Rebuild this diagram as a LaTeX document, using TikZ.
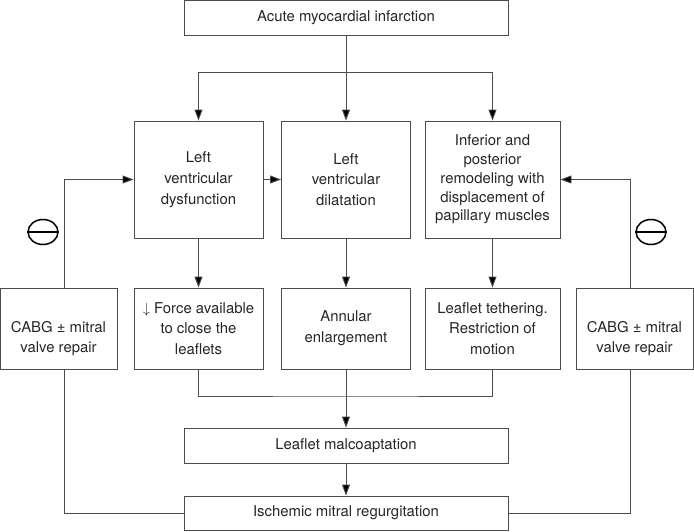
\documentclass[tikz,border=0pt]{standalone}
\usepackage{fontspec}
\setmainfont{TeX Gyre Heros}
\usetikzlibrary{arrows.meta,shapes.geometric,calc}
\begin{document}
\begin{tikzpicture}[x=1pt,y=-1pt,
  box/.style={draw=black!70, line width=0.9pt, rectangle, align=center, inner sep=2pt,
    text=black!85, font=\fontsize{14.9}{20.8}\selectfont},
  conn/.style={draw=black!70, line width=0.9pt},
  arr/.style={conn, -{Triangle[length=11pt,width=8pt,fill=black]}},
  minus/.style={draw=black, line width=1.5pt, ellipse, minimum width=30pt, minimum height=25pt, inner sep=0pt}
]
\useasboundingbox (0,0) rectangle (694,531);

\node[box, minimum width=324, minimum height=35] (top) at (346,17.5) {Acute myocardial infarction};

\node[box, minimum width=129, minimum height=117] (lvd) at (198.5,179.5) {Left\\ventricular\\dysfunction};
\node[box, minimum width=129, minimum height=117] (lvdil) at (346,179.5) {Left\\ventricular\\dilatation};
\node[box, minimum width=135, minimum height=117, font=\fontsize{14.9}{18.8}\selectfont] (rem) at (492.5,179.5) {Inferior and\\posterior\\remodeling with\\displacement of\\papillary muscles};

\node[box, inner sep=0pt] (cabgL) at (58.5,328.5) {\parbox[c][81pt][c]{117pt}{\centering\vspace{20pt}CABG ± mitral\\valve repair}};
\node[box, minimum width=129, minimum height=81] (force) at (198.5,328.5) {$\downarrow$ Force available\\to close the\\leaflets};
\node[box, minimum width=129, minimum height=81] (ann) at (346,328.5) {Annular\\enlargement};
\node[box, minimum width=135, minimum height=81] (teth) at (492.5,328.5) {Leaflet tethering.\\Restriction of\\motion};
\node[box, inner sep=0pt] (cabgR) at (634.5,328.5) {\parbox[c][81pt][c]{117pt}{\centering\vspace{20pt}CABG ± mitral\\valve repair}};

\node[box, minimum width=324, minimum height=35] (malco) at (346,445.5) {Leaflet malcoaptation};
\node[box, minimum width=324, minimum height=34] (imr) at (346,513) {Ischemic mitral regurgitation};

\node[minus] (thL) at (43,232) {};
\draw[line width=1.5pt] (thL.west) -- (thL.east);
\node[minus] (thR) at (651,232) {};
\draw[line width=1.5pt] (thR.west) -- (thR.east);

\coordinate (split) at (346,72);
\coordinate (join) at (346,396);
\coordinate (lx) at (64,0);
\coordinate (rx) at (630,0);

% top fan-out
\draw[arr] (top.south) -- (lvdil.north);
\draw[arr] (split -| lvd.north) -- (lvd.north);
\draw[arr] (split -| rem.north) -- (rem.north);
\draw[conn] (split -| lvd.north) -- (split -| rem.north);

\draw[arr] (lvd.east) -- (lvdil.west);

% row1 -> row2
\draw[arr] (lvd.south) -- (force.north);
\draw[arr] (lvdil.south) -- (ann.north);
\draw[arr] (rem.south) -- (teth.north);

% feedback
\draw[arr] (cabgL.north -| lx) |- (lvd.west);
\draw[arr] (cabgR.north -| rx) |- (rem.east);

% row2 -> malcoaptation
\draw[conn] (force.south) |- (join) -| (teth.south);
\draw[arr] (ann.south) -- (malco.north);
\draw[arr] (malco.south) -- (imr.north);

% bottom loops
\draw[conn] (imr.west) -| (cabgL.south -| lx);
\draw[conn] (imr.east) -| (cabgR.south -| rx);
\end{tikzpicture}
\end{document}
